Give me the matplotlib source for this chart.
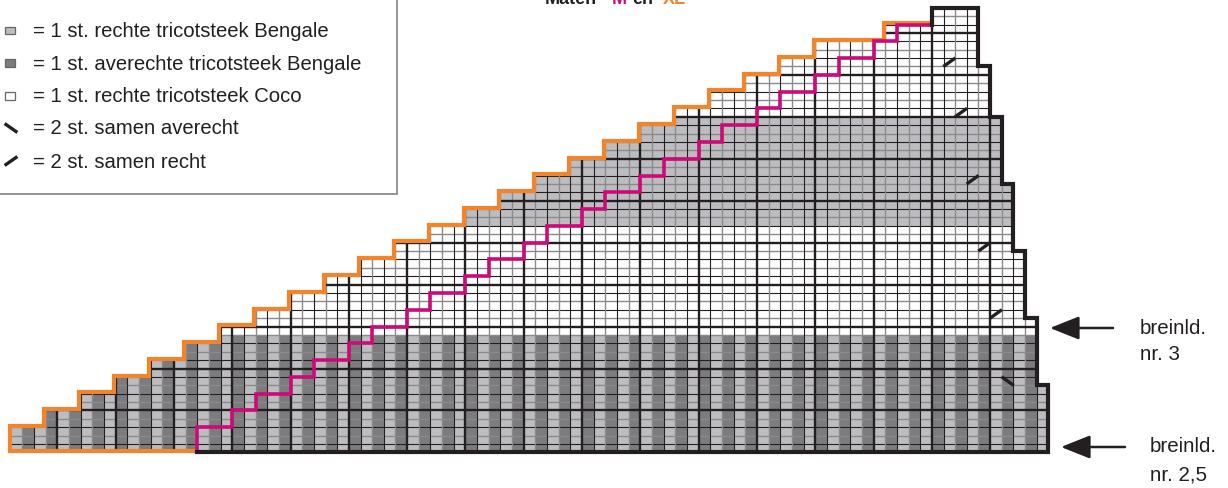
import matplotlib
matplotlib.use("Agg")
import matplotlib.pyplot as plt
import matplotlib.transforms as mt
from matplotlib.patches import Rectangle, Polygon

plt.rcParams['font.family'] = ['Liberation Sans', 'DejaVu Sans']

# DATA
n_cols = 89
n_rows = 53
top_left = 79

# maat XL (oranje): kolom van elke verticale trede en de rij waar die eindigt
xl_cols = [0, 3, 6, 9, 12, 15, 18, 21, 24, 27, 30, 33, 36, 39, 42, 45, 48, 51, 54, 57, 60, 63, 66, 69, 75]
xl_rows = [3, 5, 7, 9, 11, 13, 15, 17, 19, 21, 23, 25, 27, 29, 31, 33, 35, 37, 39, 41, 43, 45, 47, 49, 51]

# maat M (roze)
m_cols = [16, 19, 21, 24, 26, 29, 31, 34, 36, 39, 41, 44, 46, 49, 51, 54, 56, 59, 61, 64, 66, 69, 71, 74, 76]
m_rows = [3, 5, 7, 9, 11, 13, 15, 17, 19, 21, 23, 25, 27, 29, 31, 33, 35, 37, 39, 41, 43, 45, 47, 49, 51]

# rechterkant (zwart), van onder naar boven
right_rows = [0, 8, 16, 24, 32, 40, 46, 53]
right_cols = [89, 88, 87, 86, 85, 84, 83]

# kleurbanden
band_bottom = [0, 14, 27, 40]
band_top = [14, 27, 40, 53]
band_kind = ["rib", "coco", "bengale", "coco"]

# minderingen: kolom, rij, soort
dec_cols = [80, 81, 82, 83, 84, 85]
dec_rows = [46, 40, 32, 24, 16, 8]
dec_kind = ["/", "/", "/", "/", "/", "\\"]

legend_labels = ["= 1 st. rechte tricotsteek Bengale",
                 "= 1 st. averechte tricotsteek Bengale",
                 "= 1 st. rechte tricotsteek Coco",
                 "= 2 st. samen averecht",
                 "= 2 st. samen recht"]

light = "#bdbdc1"
dark = "#7c7c7f"
black = "#231f20"
orange = "#f0852d"
pink = "#cc0a78"

W, H = 1228, 489
fig = plt.figure(figsize=(W / 100, H / 100), dpi=100)

# hoofd-as in steken/rijen
ax = fig.add_axes([0, 0, 1, 1])
cw, rh = 11.66, 8.39
ax.set_xlim(-10.7 / cw, (W - 10.7) / cw)
ax.set_ylim((453.4 - H) / rh, 453.4 / rh)
ax.axis("off")


def steps(cols, rows, start, end_col):
    pts = [(cols[0], start)]
    for i, c in enumerate(cols):
        pts.append((c, rows[i]))
        nxt = cols[i + 1] if i + 1 < len(cols) else end_col
        pts.append((nxt, rows[i]))
    return pts


xl_pts = steps(xl_cols, xl_rows, 0, top_left)
right_pts = [(top_left, n_rows)]
for i in reversed(range(len(right_cols))):
    right_pts.append((right_cols[i], right_rows[i + 1]))
    right_pts.append((right_cols[i], right_rows[i]))

shape = Polygon(xl_pts + right_pts, closed=True, facecolor="none", edgecolor="none")
ax.add_patch(shape)

# vullingen
for b0, b1, kind in zip(band_bottom, band_top, band_kind):
    if kind == "rib":
        for c in range(n_cols):
            col = light if c % 2 == 0 else dark
            r = ax.add_patch(Rectangle((c, b0), 1, b1 - b0, facecolor=col, edgecolor="none", zorder=1))
            r.set_clip_path(shape)
    else:
        col = light if kind == "bengale" else "white"
        r = ax.add_patch(Rectangle((0, b0), n_cols, b1 - b0, facecolor=col, edgecolor="none", zorder=1))
        r.set_clip_path(shape)

# rasterlijnen
for r in range(1, n_rows):
    if r % 5 == 0:
        ln, = ax.plot([0, n_cols], [r, r], color=black, lw=1.7, zorder=3)
    elif r % 2 == 1:
        ln, = ax.plot([0, n_cols], [r, r], color=black, lw=0.8, zorder=2)
    else:
        ln, = ax.plot([0, n_cols], [r, r], color="#8a8a8a", lw=1.0, zorder=2)
    ln.set_clip_path(shape)
for c in range(1, n_cols):
    if (n_cols - c) % 5 == 0:
        ln, = ax.plot([c, c], [0, n_rows], color=black, lw=1.7, zorder=3)
    elif c % 2 == 0:
        ln, = ax.plot([c, c], [0, n_rows], color=black, lw=0.8, zorder=2)
    else:
        ln, = ax.plot([c, c], [0, n_rows], color="#8a8a8a", lw=1.0, zorder=2)
    ln.set_clip_path(shape)

# minderingen
for c, r, k in zip(dec_cols, dec_rows, dec_kind):
    if k == "/":
        ax.plot([c + 0.1, c + 0.9], [r + 0.1, r + 0.9], color=black, lw=2.4, zorder=4)
    else:
        ax.plot([c + 0.1, c + 0.9], [r + 0.9, r + 0.1], color=black, lw=2.4, zorder=4)

# omtrekken
bx = [top_left] + [p[0] for p in right_pts] + [m_cols[0]]
by = [m_rows[-1]] + [p[1] for p in right_pts] + [0]
ax.plot(bx, by, color=black, lw=3.0, zorder=6, solid_joinstyle="miter")

ox = [m_cols[0]] + [p[0] for p in xl_pts]
oy = [0] + [p[1] for p in xl_pts]
off = mt.offset_copy(ax.transData, fig=fig, x=-1.2, y=1.2, units="dots")
ax.plot(ox, oy, color=orange, lw=3.0, zorder=5, solid_joinstyle="miter", transform=off)

m_pts = steps(m_cols, m_rows, 0, top_left)
ax.plot([p[0] for p in m_pts], [p[1] for p in m_pts], color=pink, lw=2.6, zorder=5.5,
        solid_joinstyle="miter")

# overlay in pixels voor legenda en teksten
ov = fig.add_axes([0, 0, 1, 1])
ov.set_xlim(0, W)
ov.set_ylim(H, 0)
ov.axis("off")
ov.patch.set_alpha(0)

ov.add_patch(Rectangle((-5, -5), 402, 200, facecolor="white", edgecolor="#8c8c8c", lw=1.3))
ys = [31.5, 64, 97, 129, 162]
ov.add_patch(Rectangle((5, 27.5), 10, 7.5, facecolor=light, edgecolor="#666666", lw=0.9))
ov.add_patch(Rectangle((5, 60), 10, 7.5, facecolor=dark, edgecolor="#666666", lw=0.9))
ov.add_patch(Rectangle((5, 93), 10, 7.5, facecolor="white", edgecolor="#666666", lw=0.9))
ov.plot([6, 16], [125.5, 132.5], color=black, lw=2.4)
ov.plot([6, 16], [165.5, 158.5], color=black, lw=2.4)
for y, lab in zip(ys, legend_labels):
    ov.text(33, y, lab, fontsize=14.6, va="center", ha="left", color="#231f20")

# titel (bovenaan afgesneden, zoals in het origineel)
ov.text(545, 4, "Maten", fontsize=13, fontweight="bold", color=black, va="baseline")
ov.text(612, 4, "M", fontsize=13, fontweight="bold", color=pink, va="baseline")
ov.text(632, 4, "en", fontsize=13, fontweight="bold", color=black, va="baseline")
ov.text(663, 4, "XL", fontsize=13, fontweight="bold", color=orange, va="baseline")

# pijlen
for x0, x1, y in [(1113, 1050, 329), (1125, 1061, 448)]:
    ov.annotate("", xy=(x1, y), xytext=(x0, y),
                arrowprops=dict(arrowstyle="-|>,head_length=1.0,head_width=0.4", color=black, lw=1.8,
                                mutation_scale=18, shrinkA=0, shrinkB=0))
ov.text(1140, 328, "breinld.", fontsize=14.8, va="center", ha="left", color=black)
ov.text(1140, 355, "nr. 3", fontsize=14.8, va="center", ha="left", color=black)
ov.text(1150, 447, "breinld.", fontsize=14.8, va="center", ha="left", color=black)
ov.text(1150, 475, "nr. 2,5", fontsize=14.8, va="center", ha="left", color=black)

fig.savefig("out.png", dpi=100)
